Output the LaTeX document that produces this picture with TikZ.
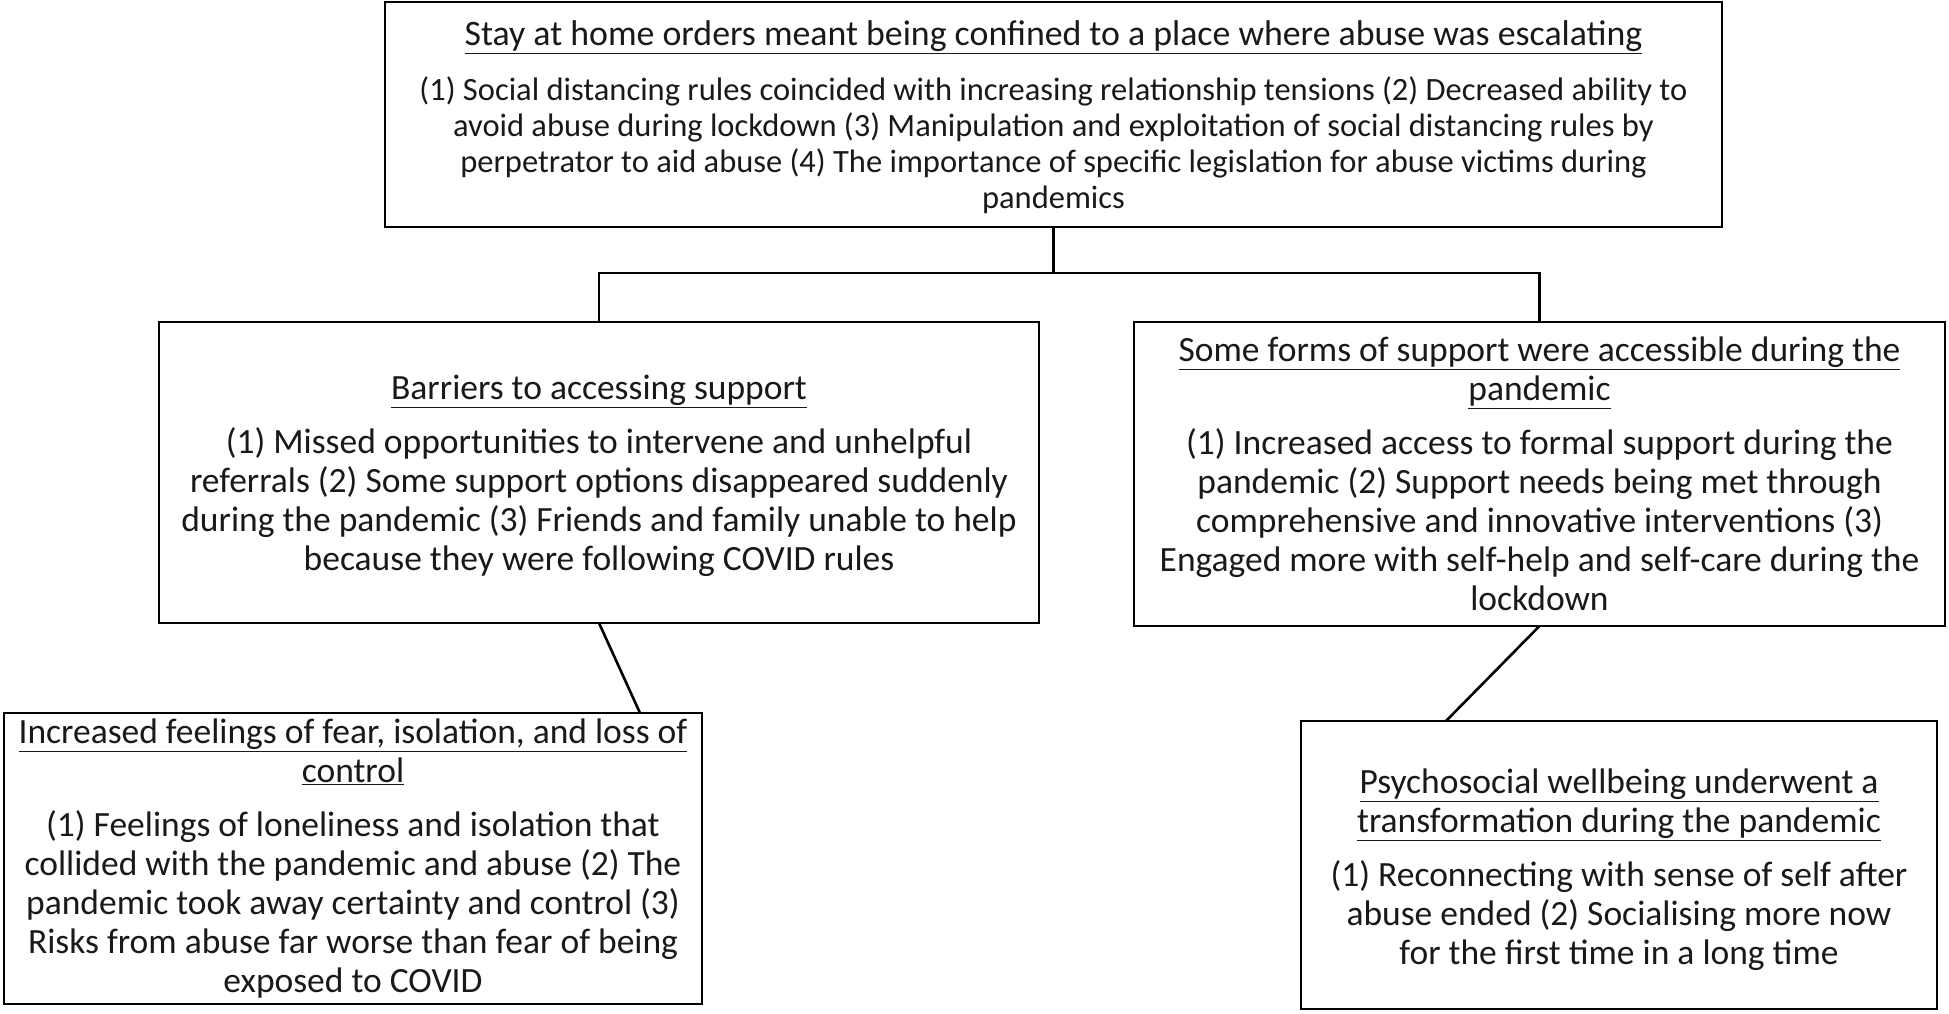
\documentclass[tikz,border=0pt]{standalone}
\usepackage{fontspec}
\setmainfont{Carlito}
\newcommand{\myul}[1]{\underline{#1}}
\newcommand{\lowertext}[2]{\raisebox{-#1}[\height][\depth]{\begin{tabular}{@{}c@{}}#2\end{tabular}}}
\tikzset{
  box/.style={draw=black, line width=2.6pt, rectangle, align=center, inner sep=0pt, outer sep=0pt, fill=white, text=black!90},
  bigfont/.style={font=\fontsize{35.5}{39}\selectfont},
  topfont/.style={font=\fontsize{32.5}{36}\selectfont},
  conn/.style={draw=black, line width=2.6pt}
}
\begin{document}
\begin{tikzpicture}[x=1pt,y=-1pt]
\useasboundingbox (0,0) rectangle (1949,1013);
\node[box, topfont, minimum width=1337pt, minimum height=225pt] (top) at (1053.5,114.5)
 {\lowertext{5pt}{{\fontsize{35.8}{36}\selectfont\myul{Stay at home orders meant being confined to a place where abuse was escalating}}\\[19pt]
  (1) Social distancing rules coincided with increasing relationship tensions (2) Decreased ability to\\
  avoid abuse during lockdown (3) Manipulation and exploitation of social distancing rules by\\
  perpetrator to aid abuse (4) The importance of specific legislation for abuse victims during\\
  pandemics}};
\node[box, bigfont, minimum width=880pt, minimum height=301pt] (lm) at (599,472.5)
 {\lowertext{5pt}{\myul{Barriers to accessing support}\\[15pt]
  (1) Missed opportunities to intervene and unhelpful\\
  referrals (2) Some support options disappeared suddenly\\
  during the pandemic (3) Friends and family unable to help\\
  because they were following COVID rules}};
\node[box, bigfont, minimum width=811pt, minimum height=304pt] (rm) at (1539.5,474)
 {\myul{Some forms of support were accessible during the}\\
  \myul{pandemic}\\[15pt]
  (1) Increased access to formal support during the\\
  pandemic (2) Support needs being met through\\
  comprehensive and innovative interventions (3)\\
  Engaged more with self-help and self-care during the\\
  lockdown};
\node[box, bigfont, minimum width=698pt, minimum height=291pt] (bl) at (353,858.5)
 {\myul{Increased feelings of fear, isolation, and loss of}\\
  \myul{control}\\[15pt]
  (1) Feelings of loneliness and isolation that\\
  collided with the pandemic and abuse (2) The\\
  pandemic took away certainty and control (3)\\
  Risks from abuse far worse than fear of being\\
  exposed to COVID};
\node[box, bigfont, minimum width=636pt, minimum height=288pt] (br) at (1619,865)
 {\lowertext{6pt}{\myul{Psychosocial wellbeing underwent a}\\
  \myul{transformation during the pandemic}\\[15pt]
  (1) Reconnecting with sense of self after\\
  abuse ended (2) Socialising more now\\
  for the first time in a long time}};
\coordinate (j) at (1053.5,273);
\draw[conn] (top.south) -- (j);
\draw[conn] (lm.north) |- (j) -| (rm.north);
\draw[conn] (lm.south) -- ([xshift=287pt]bl.north);
\draw[conn] (rm.south) -- ([xshift=-173pt]br.north);
\end{tikzpicture}
\end{document}
